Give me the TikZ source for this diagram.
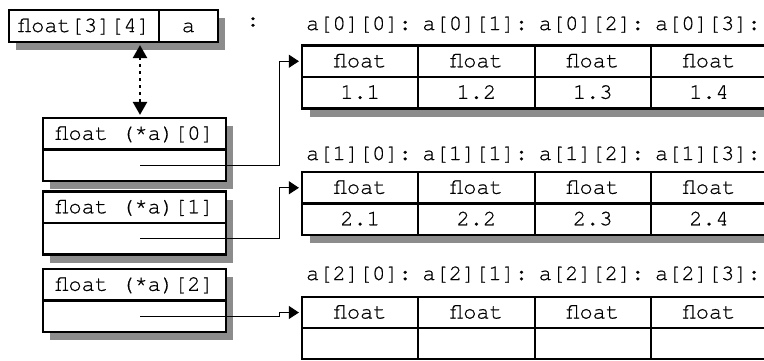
\documentclass[tikz,border=0pt]{standalone}
\usepackage{fontspec}
\setmonofont{TeX Gyre Cursor}[FakeBold=0.6]
\usetikzlibrary{arrows.meta}
\definecolor{shadowgray}{RGB}{140,140,140}
\tikzset{
  txt/.style={font=\ttfamily\fontsize{22}{22}\selectfont},
  box/.style={txt, draw, line width=2.2pt, fill=white, inner sep=0pt,
    text height=15pt, text depth=3pt},
  shade/.style={fill=shadowgray, draw=none},
  lbl/.style={txt, inner sep=0pt, anchor=base west},
  conn/.style={line width=1pt, -{Triangle[length=10pt,width=13pt]}, shorten >=2pt},
  dotarrow/.style={line width=2.5pt, dash pattern=on 3pt off 4pt,
    {Triangle[length=13pt,width=14pt]}-{Triangle[length=13pt,width=14pt]},
    shorten >=2pt, shorten <=2pt}
}
\begin{document}
\begin{tikzpicture}[x=1pt,y=-1pt]
\clip (0,0) rectangle (764,360);
% shadows
\fill[shade] (16,18) rectangle (225,50);
\fill[shade] (50,126) rectangle (233,189);
\fill[shade] (50,199.5) rectangle (233,262.5);
\fill[shade] (50,277) rectangle (233,340);
\fill[shade] (310,53.5) rectangle (790,116.5);
\fill[shade] (310,180) rectangle (790,243);
% top box
\node[box, minimum width=150pt, minimum height=32pt] (tl) at (84,26) {float[3][4]};
\node[box, minimum width=59pt, minimum height=32pt] (tr) at (188.5,26) {a};
\node[txt, inner sep=0pt] (colon) at (253,22) {:};
% left boxes
\node[box, minimum width=183pt, minimum height=31.5pt] (b0a) at (134.5,133.75) {float (*a)[0]};
\node[box, minimum width=183pt, minimum height=31.5pt] (b0b) at (134.5,165.25) {};
\node[box, minimum width=183pt, minimum height=31.5pt] (b1a) at (134.5,207.25) {float (*a)[1]};
\node[box, minimum width=183pt, minimum height=31.5pt] (b1b) at (134.5,238.75) {};
\node[box, minimum width=183pt, minimum height=31.5pt] (b2a) at (134.5,284.75) {float (*a)[2]};
\node[box, minimum width=183pt, minimum height=31.5pt] (b2b) at (134.5,316.25) {};
% tables
\foreach \c/\v in {0/1.1,1/1.2,2/1.3,3/1.4}{
  \node[box, minimum width=116.3pt, minimum height=31.5pt] (t0h\c) at ({360.15+116.3*\c},61.25) {float};
  \node[box, minimum width=116.3pt, minimum height=31.5pt] (t0v\c) at ({360.15+116.3*\c},92.75) {\v};
  \node[lbl] (l0\c) at ({306+116.3*\c},30) {a[0][\c]:};
}
\foreach \c/\v in {0/2.1,1/2.2,2/2.3,3/2.4}{
  \node[box, minimum width=116.3pt, minimum height=31.5pt] (t1h\c) at ({360.15+116.3*\c},187.75) {float};
  \node[box, minimum width=116.3pt, minimum height=31.5pt] (t1v\c) at ({360.15+116.3*\c},219.25) {\v};
  \node[lbl] (l1\c) at ({306+116.3*\c},160) {a[1][\c]:};
}
\foreach \c in {0,1,2,3}{
  \node[box, minimum width=116.3pt, minimum height=31pt] (t2h\c) at ({360.15+116.3*\c},312.5) {float};
  \node[box, minimum width=116.3pt, minimum height=31pt] (t2v\c) at ({360.15+116.3*\c},343.5) {};
  \node[lbl] (l2\c) at ({306+116.3*\c},280) {a[2][\c]:};
}
% dotted double arrow
\coordinate (dx) at (140,0);
\draw[dotarrow] (tl.south -| dx) -- (b0a.north -| dx);
% connectors
\coordinate (vx) at (279,0);
\coordinate (s0) at ([xshift=5.5pt]b0b.center);
\coordinate (s1) at ([xshift=5.5pt]b1b.center);
\coordinate (s2) at ([xshift=5.5pt]b2b.center);
\draw[conn] (s0) -- (s0 -| vx) |- (t0h0.west);
\draw[conn] (s1) -- (s1 -| vx) |- (t1h0.west);
\draw[conn] (s2) -- (s2 -| vx) |- (t2h0.west);
\end{tikzpicture}
\end{document}
